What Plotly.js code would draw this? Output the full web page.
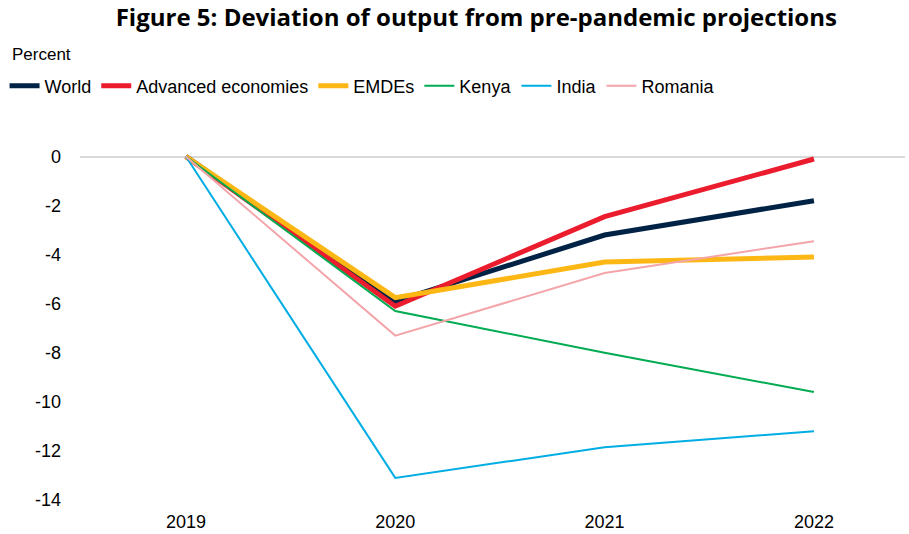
<!DOCTYPE html>
<html>
<head>
<meta charset="utf-8">
<script src="https://cdn.plot.ly/plotly-3.0.1.min.js"></script>
<style>html,body{margin:0;padding:0;background:#fff;}#chart{width:909px;height:534px;}</style>
</head>
<body>
<div id="chart"></div>
<script>
const years = ["2019", "2020", "2021", "2022"];
const world = [0, -5.9, -3.2, -1.8];
const advanced = [0, -6.1, -2.45, -0.1];
const emdes = [0, -5.75, -4.3, -4.1];
const kenya = [0, -6.3, -8.0, -9.6];
const india = [0, -13.1, -11.85, -11.2];
const romania = [0, -7.3, -4.75, -3.45];
const yTickVals = [0, -2, -4, -6, -8, -10, -12, -14];
const yTickText = ["0", "-2", "-4", "-6", "-8", "-10", "-12", "-14"];

const seriesNames = ["World", "Advanced economies", "EMDEs", "Kenya", "India", "Romania"];
const seriesData = [world, advanced, emdes, kenya, india, romania];
const seriesColors = ["#002345", "#EB1C2D", "#FDB714", "#00AB51", "#00ADE4", "#F4A5AA"];
const seriesWidths = [5, 5, 5, 2, 2, 2];

const traces = seriesNames.map((n, i) => ({
  type: "scatter", mode: "lines", name: n, x: years, y: seriesData[i],
  line: {color: seriesColors[i], width: seriesWidths[i]}
}));

const layout = {
  width: 909, height: 534,
  margin: {l: 80, r: 4, t: 132, b: 34},
  paper_bgcolor: "#fff", plot_bgcolor: "#fff",
  font: {family: "Liberation Sans, Arial, sans-serif", size: 18, color: "#000"},
  title: {text: "<b>Figure 5: Deviation of output from pre-pandemic projections</b>",
    font: {family: "Open Sans, Liberation Sans, sans-serif", size: 24, color: "#000"},
    x: 0.524, xanchor: "center", yref: "container", y: 1 - 18/534, yanchor: "middle"},
  xaxis: {type: "category", range: [-0.506, 3.435], showgrid: false, zeroline: false,
    showline: false, ticks: "", tickfont: {size: 18}, ticklabelstandoff: 9},
  yaxis: {range: [-14, 1], tickmode: "array", tickvals: yTickVals, ticktext: yTickText,
    showgrid: false, zeroline: true, zerolinecolor: "#d9d9d9",
    zerolinewidth: 2, showline: false, ticks: "", tickfont: {size: 18}, ticklabelstandoff: 18},
  showlegend: true,
  legend: {orientation: "h", xref: "container", yref: "container", x: 0.005, xanchor: "left",
    y: 1 - 86/534, yanchor: "middle", font: {size: 18}, itemwidth: 30, tracegroupgap: 0,
    bgcolor: "rgba(0,0,0,0)"},
  annotations: [{text: "Percent", xref: "paper", yref: "paper", x: -0.085, xanchor: "left",
    y: 1.211, yanchor: "middle", showarrow: false, font: {size: 17}}]
};

Plotly.newPlot("chart", traces, layout, {displayModeBar: false, staticPlot: true});
</script>
</body>
</html>
